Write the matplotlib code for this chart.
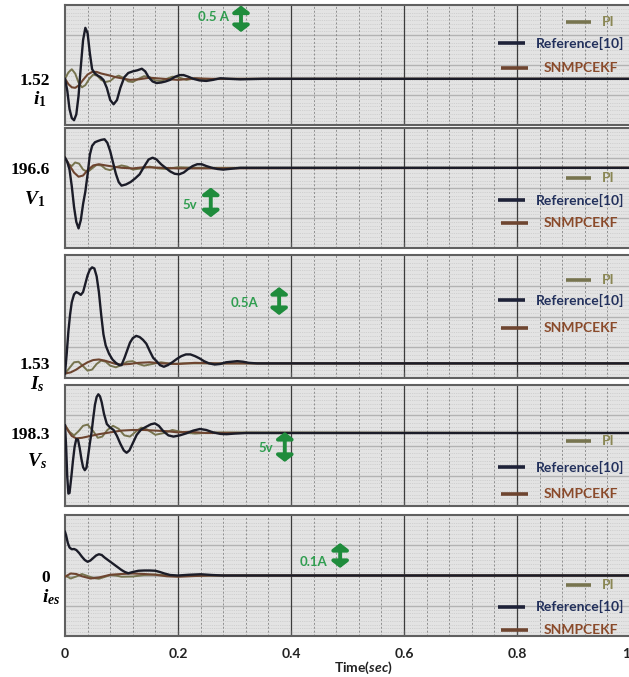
import numpy as np
import matplotlib
matplotlib.use("Agg")
import matplotlib.pyplot as plt

# ---------------- data ----------------
# Panel 1 : i1
t_i1_ref = [0, 0.004, 0.008, 0.012, 0.016, 0.020, 0.024, 0.028, 0.032, 0.036, 0.040, 0.044, 0.048, 0.053, 0.058,
            0.063, 0.068, 0.074, 0.080, 0.086, 0.092, 0.098, 0.105, 0.112, 0.120, 0.128, 0.136, 0.142, 0.148, 0.155,
            0.162, 0.170, 0.178, 0.186, 0.195, 0.203, 0.210, 0.218, 0.227, 0.238, 0.250, 0.262, 0.275, 0.29, 0.31,
            0.35, 1.0]
i1_ref = [1.52, 1.30, 0.95, 0.78, 0.74, 0.85, 1.20, 1.75, 2.25, 2.48, 2.38, 2.00, 1.70, 1.62, 1.58,
          1.55, 1.50, 1.35, 1.12, 1.04, 1.12, 1.35, 1.55, 1.63, 1.66, 1.68, 1.71, 1.66, 1.55, 1.47,
          1.44, 1.45, 1.47, 1.50, 1.56, 1.59, 1.59, 1.56, 1.52, 1.49, 1.48, 1.50, 1.53, 1.52, 1.51,
          1.52, 1.52]
t_i1_pi = [0, 0.006, 0.012, 0.018, 0.024, 0.030, 0.036, 0.043, 0.050, 0.057, 0.064, 0.072, 0.080, 0.088, 0.095,
           0.103, 0.112, 0.120, 0.130, 0.140, 0.150, 0.160, 0.170, 0.180, 0.190, 0.200, 0.215, 0.230, 0.25, 0.27, 1.0]
i1_pi = [1.52, 1.64, 1.70, 1.62, 1.45, 1.36, 1.40, 1.52, 1.60, 1.58, 1.50, 1.46, 1.48, 1.55, 1.58,
         1.54, 1.47, 1.46, 1.52, 1.57, 1.55, 1.49, 1.48, 1.52, 1.56, 1.55, 1.50, 1.53, 1.51, 1.52, 1.52]
t_i1_sn = [0, 0.006, 0.012, 0.018, 0.025, 0.032, 0.040, 0.048, 0.056, 0.064, 0.072, 0.080, 0.090, 0.100, 0.115,
           0.130, 0.150, 0.175, 0.2, 0.23, 0.26, 1.0]
i1_sn = [1.52, 1.42, 1.36, 1.35, 1.40, 1.50, 1.60, 1.65, 1.65, 1.62, 1.60, 1.58, 1.55, 1.53, 1.50,
         1.51, 1.54, 1.52, 1.50, 1.53, 1.52, 1.52]

# Panel 2 : V1
t_v1_ref = [0, 0.004, 0.008, 0.012, 0.016, 0.020, 0.024, 0.028, 0.032, 0.036, 0.040, 0.044, 0.048, 0.053, 0.058,
            0.064, 0.070, 0.075, 0.080, 0.085, 0.090, 0.095, 0.100, 0.108, 0.116, 0.124, 0.132, 0.140, 0.148, 0.155,
            0.162, 0.170, 0.178, 0.186, 0.194, 0.202, 0.210, 0.218, 0.226, 0.234, 0.242, 0.25, 0.26, 0.27, 0.28,
            0.29, 0.31, 0.34, 1.0]
v1_ref = [198.3, 197.6, 196.3, 193.5, 190.0, 187.5, 186.4, 187.8, 190.5, 192.6, 195.5, 198.8, 200.3, 200.9, 201.1,
          201.3, 201.4, 200.8, 199.4, 197.5, 195.6, 194.2, 193.6, 193.8, 194.2, 194.8, 195.5, 196.8, 198.0, 198.3,
          198.0, 197.2, 196.6, 196.0, 195.6, 195.5, 195.8, 196.4, 196.9, 197.2, 197.2, 196.9, 196.6, 196.4, 196.3,
          196.4, 196.6, 196.6, 196.6]
t_v1_pi = [0, 0.006, 0.012, 0.018, 0.025, 0.032, 0.040, 0.048, 0.056, 0.064, 0.072, 0.080, 0.090, 0.100, 0.110,
           0.120, 0.135, 0.150, 0.165, 0.18, 0.2, 0.23, 1.0]
v1_pi = [198.3, 197.2, 196.9, 197.5, 197.3, 196.3, 195.9, 196.5, 197.1, 197.0, 196.4, 196.2, 196.7, 197.0, 196.8,
         196.3, 196.5, 196.8, 196.5, 196.4, 196.7, 196.6, 196.6]
t_v1_sn = [0, 0.008, 0.016, 0.024, 0.032, 0.040, 0.050, 0.060, 0.072, 0.085, 0.1, 0.12, 0.14, 0.17, 0.2, 1.0]
v1_sn = [198.3, 197.0, 195.8, 195.1, 195.3, 196.2, 197.0, 197.2, 197.0, 196.8, 196.6, 196.5, 196.7, 196.6, 196.5,
         196.6]

# Panel 3 : Is
t_is_ref = [0, 0.003, 0.006, 0.009, 0.012, 0.016, 0.020, 0.024, 0.028, 0.032, 0.036, 0.040, 0.044, 0.048, 0.052,
            0.056, 0.060, 0.064, 0.068, 0.072, 0.078, 0.084, 0.090, 0.096, 0.100, 0.105, 0.110, 0.115, 0.120, 0.126,
            0.132, 0.138, 0.144, 0.150, 0.156, 0.162, 0.168, 0.175, 0.182, 0.190, 0.198, 0.206, 0.214, 0.222, 0.230,
            0.238, 0.246, 0.255, 0.265, 0.275, 0.285, 0.295, 0.305, 0.315, 0.325, 0.34, 0.36, 1.0]
is_ref = [1.35, 1.70, 2.10, 2.40, 2.62, 2.76, 2.80, 2.78, 2.75, 2.80, 2.95, 3.10, 3.20, 3.24, 3.22,
          3.08, 2.80, 2.40, 2.05, 1.85, 1.70, 1.60, 1.54, 1.50, 1.50, 1.62, 1.76, 1.90, 1.98, 2.02,
          2.00, 1.95, 1.88, 1.75, 1.63, 1.57, 1.50, 1.47, 1.50, 1.55, 1.61, 1.66, 1.69, 1.69, 1.66,
          1.62, 1.57, 1.53, 1.51, 1.52, 1.55, 1.56, 1.57, 1.56, 1.54, 1.53, 1.53, 1.53]
t_is_pi = [0, 0.008, 0.016, 0.024, 0.032, 0.040, 0.048, 0.056, 0.064, 0.072, 0.080, 0.090, 0.100, 0.110, 0.120,
           0.130, 0.140, 0.155, 0.17, 0.19, 0.21, 0.24, 1.0]
is_pi = [1.35, 1.45, 1.55, 1.56, 1.48, 1.40, 1.42, 1.52, 1.58, 1.56, 1.49, 1.46, 1.50, 1.56, 1.57,
         1.52, 1.49, 1.52, 1.55, 1.52, 1.53, 1.53, 1.53]
t_is_sn = [0, 0.01, 0.02, 0.03, 0.04, 0.05, 0.06, 0.07, 0.08, 0.09, 0.10, 0.115, 0.13, 0.15, 0.17, 0.2, 0.23, 0.27,
           0.3, 1.0]
is_sn = [1.35, 1.37, 1.42, 1.49, 1.55, 1.59, 1.60, 1.58, 1.55, 1.52, 1.51, 1.52, 1.54, 1.55, 1.53, 1.52, 1.54, 1.53,
         1.53, 1.53]

# Panel 4 : Vs
t_vs_ref = [0, 0.002, 0.004, 0.006, 0.008, 0.011, 0.014, 0.017, 0.020, 0.023, 0.026, 0.029, 0.032, 0.035, 0.038,
            0.041, 0.044, 0.047, 0.050, 0.053, 0.056, 0.059, 0.062, 0.065, 0.069, 0.074, 0.080, 0.086, 0.092, 0.098,
            0.104, 0.109, 0.114, 0.120, 0.127, 0.135, 0.145, 0.152, 0.159, 0.166, 0.174, 0.183, 0.192, 0.203, 0.215,
            0.227, 0.239, 0.25, 0.262, 0.275, 0.286, 0.3, 0.32, 1.0]
vs_ref = [199.6, 196.0, 191.0, 188.2, 188.3, 190.8, 193.6, 196.0, 197.3, 197.2, 195.8, 194.0, 192.6, 192.1, 192.5,
          194.5, 196.6, 198.4, 200.8, 203.0, 204.3, 204.75, 204.4, 203.4, 201.5, 199.8, 199.2, 198.8, 197.8, 196.5,
          195.4, 195.0, 195.4, 196.6, 198.0, 198.9, 199.4, 199.75, 199.9, 199.5, 198.6, 197.9, 197.7, 197.9, 198.25,
          198.7, 198.97, 198.8, 198.4, 198.15, 198.1, 198.2, 198.3, 198.3]
t_vs_pi = [0, 0.008, 0.016, 0.024, 0.032, 0.040, 0.050, 0.058, 0.066, 0.075, 0.085, 0.095, 0.105, 0.115, 0.125,
           0.135, 0.145, 0.16, 0.175, 0.19, 0.21, 0.23, 0.26, 1.0]
vs_pi = [199.6, 198.5, 197.9, 198.6, 199.5, 199.7, 198.6, 197.5, 197.7, 198.8, 199.5, 199.0, 197.9, 197.7, 198.5,
         199.2, 198.9, 198.0, 198.3, 198.8, 198.4, 198.2, 198.4, 198.3]
t_vs_sn = [0, 0.006, 0.012, 0.02, 0.03, 0.045, 0.06, 0.08, 0.1, 0.12, 0.14, 0.16, 0.18, 0.2, 0.22, 0.25, 0.28, 1.0]
vs_sn = [199.6, 198.6, 197.8, 197.4, 197.5, 197.8, 198.1, 198.4, 198.7, 198.8, 198.8, 198.7, 198.6, 198.4, 198.5,
         198.3, 198.3, 198.3]

# Panel 5 : ies
t_ies_ref = [0, 0.002, 0.005, 0.008, 0.012, 0.016, 0.020, 0.025, 0.030, 0.035, 0.040, 0.045, 0.050, 0.055, 0.060,
             0.065, 0.070, 0.076, 0.082, 0.088, 0.094, 0.100, 0.106, 0.112, 0.120, 0.130, 0.140, 0.150, 0.160, 0.168,
             0.176, 0.186, 0.2, 0.22, 0.24, 0.26, 0.28, 1.0]
ies_ref = [0.175, 0.160, 0.130, 0.112, 0.105, 0.106, 0.102, 0.090, 0.075, 0.062, 0.055, 0.060, 0.070, 0.080, 0.085,
           0.082, 0.072, 0.062, 0.052, 0.042, 0.032, 0.022, 0.014, 0.009, 0.014, 0.019, 0.020, 0.020, 0.019, 0.014,
           0.008, 0.002, 0.0, 0.003, 0.005, 0.002, 0.0, 0.0]
t_ies_pi = [0, 0.01, 0.02, 0.03, 0.04, 0.05, 0.06, 0.07, 0.08, 0.09, 0.1, 0.12, 0.14, 0.16, 0.18, 0.2, 0.22, 0.25,
            1.0]
ies_pi = [0.0, -0.012, -0.004, 0.006, -0.002, -0.010, -0.013, -0.006, 0.002, 0.0, -0.005, -0.004, 0.002, 0.004,
          0.001, -0.002, 0.0, 0.0, 0.0]
t_ies_sn = [0, 0.01, 0.02, 0.03, 0.045, 0.06, 0.08, 0.1, 0.12, 0.14, 0.16, 0.18, 0.2, 0.23, 0.26, 1.0]
ies_sn = [-0.005, 0.008, 0.006, -0.003, -0.012, -0.008, 0.003, 0.006, 0.008, 0.006, 0.003, -0.003, -0.005, -0.002,
          0.0, 0.0]

baselines = [1.52, 196.6, 1.53, 198.3, 0.0]
baseline_labels = ["1.52", "196.6", "1.53", "198.3", "0"]
var_names = [r"$i_1$", r"$V_1$", r"$I_s$", r"$V_s$", r"$i_{es}$"]
scale_values = [0.5, 5.0, 0.5, 5.0, 0.1]
scale_labels = ["0.5 A", "5v", "0.5A", "5v", "0.1A"]
series_names = ["PI", "Reference[10]", "SNMPCEKF"]
x_ticks = [0, 0.2, 0.4, 0.6, 0.8, 1.0]
x_tick_labels = ["0", "0.2", "0.4", "0.6", "0.8", "1"]

# ---------------- style / layout ----------------
plt.rcParams["mathtext.fontset"] = "custom"
plt.rcParams["mathtext.it"] = "Liberation Serif:italic:bold"
plt.rcParams["mathtext.rm"] = "Liberation Serif:bold"
plt.rcParams["mathtext.sf"] = "Lato:italic:bold"

PI_C = "#77744f"
REF_C = "#1b1c28"
SN_C = "#6e4530"
PI_TXT = "#8a8754"
REF_TXT = "#22305c"
SN_TXT = "#8a4a2a"
GREEN = "#1f8c3c"
GREEN_TXT = "#2f9d4f"

W, H = 629, 677
fig = plt.figure(figsize=(W / 100, H / 100), dpi=100)

# panel pixel boxes (top, bottom) and y limits
boxes = [(5, 125), (128, 248), (255, 378), (385, 506), (515, 636)]
ylims = [(0.65, 2.91), (183.1, 203.3), (1.27, 3.46), (186.13, 206.3), (-0.242, 0.242)]
var_off = [(-25, -20), (-30, -31), (-28, -21), (-28, -28), (-14, -22)]
arrow_pos = [(0.3115, 2.40), (0.258, 188.27), (0.379, 2.39), (0.389, 193.47), (0.487, 0.03)]
text_pos = [(0.262, 2.677), (0.221, 190.27), (0.317, 2.607), (0.356, 195.8), (0.439, 0.054)]
leg_y = [(0.858, 0.683, 0.475), (0.583, 0.40, 0.208), (0.797, 0.634, 0.407), (0.537, 0.322, 0.099),
         (0.421, 0.24, 0.05)]

data = [
    [(t_i1_pi, i1_pi), (t_i1_ref, i1_ref), (t_i1_sn, i1_sn)],
    [(t_v1_pi, v1_pi), (t_v1_ref, v1_ref), (t_v1_sn, v1_sn)],
    [(t_is_pi, is_pi), (t_is_ref, is_ref), (t_is_sn, is_sn)],
    [(t_vs_pi, vs_pi), (t_vs_ref, vs_ref), (t_vs_sn, vs_sn)],
    [(t_ies_pi, ies_pi), (t_ies_ref, ies_ref), (t_ies_sn, ies_sn)],
]

left_px = 65
for k in range(5):
    top, bot = boxes[k]
    ax = fig.add_axes([left_px / W, 1 - bot / H, (W - left_px + 1) / W, (bot - top) / H])
    ax.set_facecolor("#e3e3e3")
    ax.set_xlim(0, 1)
    lo, hi = ylims[k]
    ax.set_ylim(lo, hi)

    # background texture / grid
    for yy in np.linspace(lo, hi, 33)[1:-1]:
        ax.axhline(yy, color="#c9c9c9", lw=0.6, ls=(0, (1, 1.2)), zorder=0)
    for yy in np.linspace(lo, hi, 5)[1:-1]:
        ax.axhline(yy, color="#b3b3b3", lw=1.0, zorder=0.5)
    for xx in np.arange(0.04, 1.0, 0.04):
        if abs(xx / 0.2 - round(xx / 0.2)) > 1e-6:
            ax.axvline(xx, color="#8e8e8e", lw=0.7, ls=(0, (2, 2)), zorder=0.6)
    for xx in x_ticks[1:-1]:
        ax.axvline(xx, color="#3c3c3c", lw=0.9, zorder=0.7)

    # series
    (tp, vp), (tr, vr), (ts, vs) = data[k]
    ax.plot(tp, vp, color=PI_C, lw=1.4, zorder=3)
    ax.plot(ts, vs, color=SN_C, lw=1.5, zorder=3.5)
    ax.plot(tr, vr, color=REF_C, lw=1.7, zorder=4)

    # frame
    for s in ax.spines.values():
        s.set_color("#606060")
        s.set_linewidth(1.5)

    # y tick: steady-state value
    ax.set_yticks([baselines[k]])
    ax.set_yticklabels([baseline_labels[k]], fontsize=12.5, fontweight="bold", family="Liberation Serif")
    ax.tick_params(axis="y", length=0, pad=11)
    ax.annotate(var_names[k], xy=(0, baselines[k]), xycoords=("axes fraction", "data"),
                xytext=var_off[k], textcoords="offset pixels", ha="center", va="center", fontsize=14)

    # x ticks
    ax.set_xticks(x_ticks)
    ax.tick_params(axis="x", direction="in", length=4, color="#555555")
    if k == 4:
        labs = ax.set_xticklabels(x_tick_labels, fontsize=10, fontweight="bold", family="Lato", color="#222222")
        labs[-1].set_horizontalalignment("right")
        ax.tick_params(axis="x", pad=9)
    else:
        ax.set_xticklabels([])

    # scale arrow (double headed)
    ax0, ay0 = arrow_pos[k]
    ax.annotate("", xy=(ax0, ay0 + scale_values[k]), xytext=(ax0, ay0),
                arrowprops=dict(arrowstyle="<|-|>,head_length=0.42,head_width=0.55", mutation_scale=9,
                                lw=2.8, color=GREEN, shrinkA=0, shrinkB=0), zorder=6)
    tx, ty = text_pos[k]
    ax.text(tx, ty, scale_labels[k], ha="center", va="center", color=GREEN_TXT, fontsize=9.5,
            fontweight="bold", family="Lato", zorder=6)

    # legend (drawn manually)
    ly = leg_y[k]
    seg = [(0.887, 0.931), (0.766, 0.814), (0.771, 0.819)]
    txt_r = [0.972, 0.990, 0.979]
    lcol = [PI_C, "#1e2238", SN_C]
    tcol = [PI_TXT, REF_TXT, SN_TXT]
    for j in range(3):
        ax.plot(seg[j], [ly[j], ly[j]], transform=ax.transAxes, color=lcol[j], lw=2.6, zorder=7,
                solid_capstyle="butt")
        ax.text(txt_r[j], ly[j], series_names[j], transform=ax.transAxes, ha="right", va="center",
                color=tcol[j], fontsize=10, fontweight="bold", family="Lato", zorder=7)

fig.text(363 / W, 1 - 668 / H, r"Time($\mathsf{sec}$)", ha="center", va="center", fontsize=10,
         fontweight="bold", family="Lato", color="#222222")

fig.savefig("out.png", dpi=100)
